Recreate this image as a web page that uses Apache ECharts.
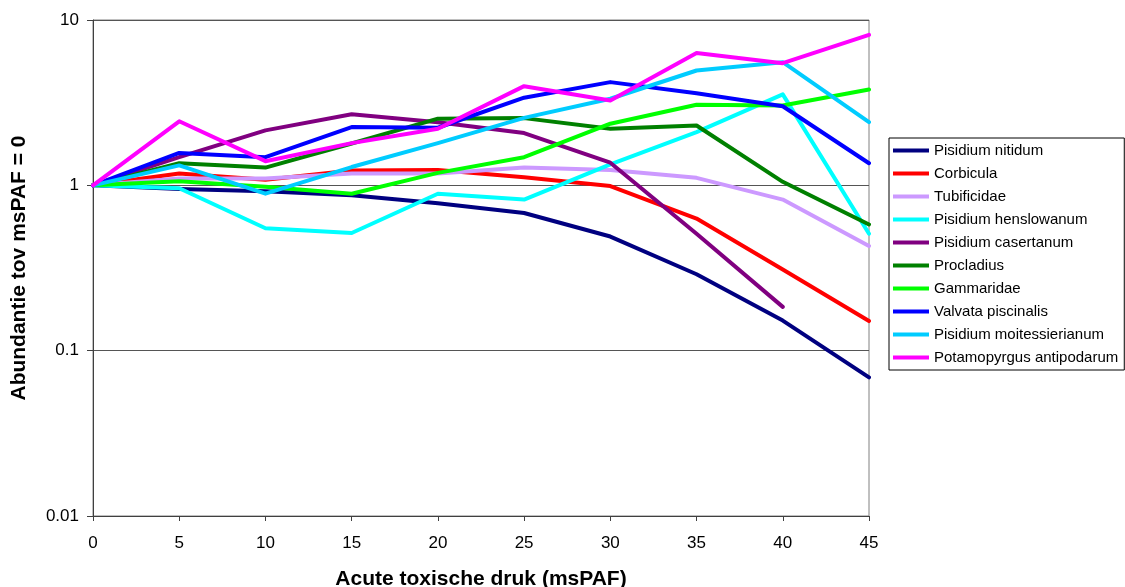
<!DOCTYPE html>
<html>
<head>
<meta charset="utf-8">
<script src="https://cdn.jsdelivr.net/npm/echarts@6/dist/echarts.min.js"></script>
<style>
html,body{margin:0;padding:0;background:#fff;}
#chart{width:1125px;height:587px;}
</style>
</head>
<body>
<div id="chart"></div>
<script>
var xValues = [0, 5, 10, 15, 20, 25, 30, 35, 40, 45];
var yTickLabels = ['0.01', '0.1', '1', '10'];
var seriesNames = ['Pisidium nitidum', 'Corbicula', 'Tubificidae', 'Pisidium henslowanum', 'Pisidium casertanum', 'Procladius', 'Gammaridae', 'Valvata piscinalis', 'Pisidium moitessierianum', 'Potamopyrgus antipodarum'];
var pisidiumNitidum = [1, 0.95, 0.92, 0.87, 0.78, 0.68, 0.49, 0.29, 0.152, 0.069];
var corbicula = [1, 1.18, 1.08, 1.23, 1.24, 1.12, 0.99, 0.63, 0.31, 0.151];
var tubificidae = [1, 1.10, 1.10, 1.18, 1.18, 1.28, 1.24, 1.11, 0.82, 0.43];
var pisidiumHenslowanum = [1, 0.96, 0.55, 0.515, 0.89, 0.82, 1.34, 2.10, 3.55, 0.51];
var pisidiumCasertanum = [1, 1.48, 2.15, 2.69, 2.41, 2.07, 1.37, 0.51, 0.184, null];
var procladius = [1, 1.36, 1.28, 1.79, 2.53, 2.55, 2.20, 2.30, 1.05, 0.58];
var gammaridae = [1, 1.06, 0.98, 0.89, 1.19, 1.48, 2.36, 3.07, 3.04, 3.80];
var valvataPiscinalis = [1, 1.57, 1.48, 2.25, 2.23, 3.39, 4.21, 3.61, 3.01, 1.36];
var pisidiumMoitessierianum = [1, 1.32, 0.89, 1.29, 1.80, 2.56, 3.34, 4.95, 5.56, 2.41];
var potamopyrgusAntipodarum = [1, 2.44, 1.40, 1.80, 2.20, 3.98, 3.26, 6.31, 5.48, 8.14];
var seriesColors = ['#000080', '#FF0000', '#CC99FF', '#00FFFF', '#800080', '#008000', '#00FF00', '#0000FF', '#00CCFF', '#FF00FF'];

var allValues = [pisidiumNitidum, corbicula, tubificidae, pisidiumHenslowanum, pisidiumCasertanum, procladius, gammaridae, valvataPiscinalis, pisidiumMoitessierianum, potamopyrgusAntipodarum];

var series = allValues.map(function (vals, i) {
  var data = [];
  vals.forEach(function (v, j) { if (v !== null) data.push([xValues[j], v]); });
  return {
    name: seriesNames[i],
    type: 'line',
    data: data,
    symbol: 'none',
    showSymbol: false,
    smooth: false,
    animation: false,
    color: seriesColors[i],
    lineStyle: { width: 4, color: seriesColors[i], cap: 'round', join: 'round' }
  };
});

var tickValues = [0.01, 0.1, 1, 10];
var chart = echarts.init(document.getElementById('chart'), null, { renderer: 'canvas' });
chart.setOption({
  backgroundColor: '#ffffff',
  animation: false,
  grid: { left: 93, right: 256, top: 20, bottom: 71, outerBoundsMode: 'none', containLabel: false, show: true, borderColor: '#808080', borderWidth: 1, backgroundColor: 'transparent' },
  legend: {
    orient: 'vertical',
    left: 889,
    top: 138,
    padding: [5, 6, 5, 4],
    itemWidth: 36,
    itemHeight: 4,
    itemGap: 8,
    icon: 'rect',
    borderColor: '#000000',
    borderWidth: 1,
    textStyle: { fontFamily: 'Liberation Sans, Arial, sans-serif', fontSize: 15, lineHeight: 15, color: '#000' },
    data: seriesNames
  },
  xAxis: {
    type: 'value',
    min: 0,
    max: 45,
    interval: 5,
    name: 'Acute toxische druk (msPAF)',
    nameLocation: 'middle',
    nameGap: 53,
    nameTextStyle: { fontFamily: 'Liberation Sans, Arial, sans-serif', fontSize: 21, fontWeight: 'bold', color: '#000' },
    axisLine: { show: true, lineStyle: { color: '#404040', width: 1 } },
    axisTick: { show: true, inside: false, length: 5, lineStyle: { color: '#404040' } },
    axisLabel: { fontFamily: 'Liberation Sans, Arial, sans-serif', fontSize: 17, color: '#000', margin: 19 },
    splitLine: { show: false }
  },
  yAxis: {
    type: 'log',
    logBase: 10,
    min: 0.01,
    max: 10,
    name: 'Abundantie tov msPAF = 0',
    nameLocation: 'middle',
    nameGap: 63,
    nameTextStyle: { fontFamily: 'Liberation Sans, Arial, sans-serif', fontSize: 21, fontWeight: 'bold', color: '#000' },
    axisLine: { show: true, lineStyle: { color: '#404040', width: 1 } },
    axisTick: { show: true, inside: false, length: 6, lineStyle: { color: '#404040' } },
    axisLabel: {
      fontFamily: 'Liberation Sans, Arial, sans-serif', fontSize: 17, color: '#000', margin: 14,
      formatter: function (v) {
        for (var k = 0; k < tickValues.length; k++) {
          if (Math.abs(Math.log10(v) - Math.log10(tickValues[k])) < 1e-6) return yTickLabels[k];
        }
        return '';
      }
    },
    minorTick: { show: false },
    splitLine: { show: true, lineStyle: { color: '#555555', width: 1 } }
  },
  series: series
});
</script>
</body>
</html>
